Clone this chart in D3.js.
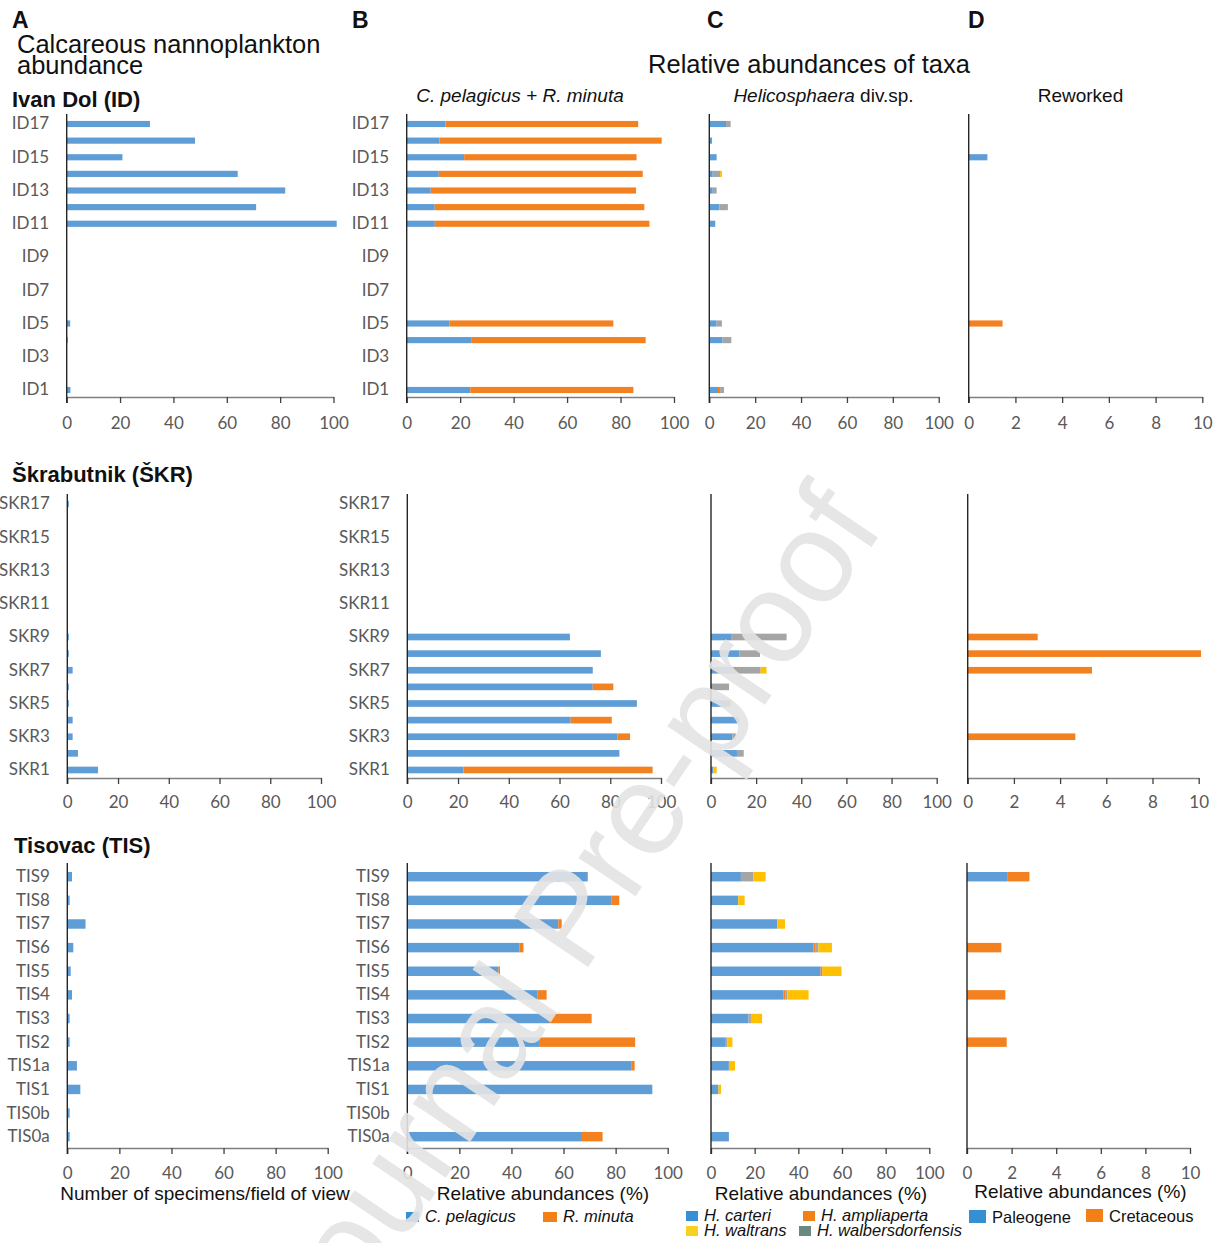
<!DOCTYPE html>
<html>
<head>
<meta charset="utf-8">
<script src="https://cdn.jsdelivr.net/npm/d3@7"></script>
<style>
  body { margin: 0; background: #fff; }
  svg { display: block; font-family: "Liberation Sans", Arial, sans-serif; }
  .tick text { font-family: Lato, "Open Sans", sans-serif; font-size: 17px; fill: #595959; }
</style>
</head>
<body>
<svg id="fig" width="1220" height="1243"></svg>
<script>
// ---------- samples (top of section first) ----------
const idSamples = ["ID17","ID16","ID15","ID14","ID13","ID12","ID11","ID10","ID9","ID8","ID7","ID6","ID5","ID4","ID3","ID2","ID1"];
const idTickLabels = ["ID17","ID15","ID13","ID11","ID9","ID7","ID5","ID3","ID1"];
const skrSamples = ["SKR17","SKR16","SKR15","SKR14","SKR13","SKR12","SKR11","SKR10","SKR9","SKR8","SKR7","SKR6","SKR5","SKR4","SKR3","SKR2","SKR1"];
const skrTickLabels = ["SKR17","SKR15","SKR13","SKR11","SKR9","SKR7","SKR5","SKR3","SKR1"];
const tisSamples = ["TIS9","TIS8","TIS7","TIS6","TIS5","TIS4","TIS3","TIS2","TIS1a","TIS1","TIS0b","TIS0a"];

const pctTicks = [0, 20, 40, 60, 80, 100];
const reworkedTicks = [0, 2, 4, 6, 8, 10];

// ---------- A: specimens per field of view ----------
const idAbundance  = [31.2, 48.1, 20.9, 64.1, 81.9, 71.0, 101.2, 0, 0, 0, 0, 0, 1.3, 0.4, 0, 0, 1.4];
const skrAbundance = [0.6, 0, 0, 0, 0, 0, 0, 0, 0.6, 0.6, 2.1, 0.6, 0.6, 2.1, 2.1, 4.2, 12.1];
const tisAbundance = [1.8, 0.9, 7.0, 2.3, 1.3, 1.8, 0.9, 0.9, 3.7, 5.0, 0.9, 0.9];

// ---------- B: C. pelagicus + R. minuta (%) ----------
const idPelagicus  = [14.5, 12.3, 21.5, 12.0, 9.0, 10.5, 10.5, 0, 0, 0, 0, 0, 16.0, 24.1, 0, 0, 23.8];
const idMinuta     = [72.1, 83.1, 64.5, 76.3, 76.8, 78.4, 80.3, 0, 0, 0, 0, 0, 61.3, 65.3, 0, 0, 61.0];
const skrPelagicus = [0, 0, 0, 0, 0, 0, 0, 0, 64.1, 76.3, 73.1, 73.1, 90.5, 64.4, 82.9, 83.6, 22.1];
const skrMinuta    = [0, 0, 0, 0, 0, 0, 0, 0, 0, 0, 0, 8.1, 0, 16.2, 4.9, 0, 74.6];
const tisPelagicus = [69.3, 78.5, 58.0, 43.0, 35.0, 49.9, 54.4, 50.6, 86.2, 94.1, 0, 66.7];
const tisMinuta    = [0, 2.9, 1.3, 1.6, 0.6, 3.6, 16.4, 36.9, 1.1, 0, 0, 8.3];

// ---------- C: Helicosphaera div. sp. (%) ----------
const idCarteri           = [7.3, 1.2, 3.2, 1.5, 1.5, 4.4, 2.6, 0, 0, 0, 0, 0, 3.2, 5.8, 0, 0, 3.8];
const idAmpliaperta       = [0, 0, 0, 0, 0, 0, 0, 0, 0, 0, 0, 0, 0, 0, 0, 0, 0.9];
const idWalbersdorfensis  = [2.0, 0, 0, 3.2, 1.7, 3.7, 0, 0, 0, 0, 0, 0, 2.3, 3.8, 0, 0, 1.7];
const idWaltrans          = [0, 0, 0, 0.8, 0, 0, 0, 0, 0, 0, 0, 0, 0, 0, 0, 0, 0];
const skrCarteri          = [0, 0, 0, 0, 0, 0, 0, 0, 9.2, 12.5, 10.0, 0, 8.5, 12.5, 9.5, 11.5, 1.0];
const skrAmpliaperta      = [0, 0, 0, 0, 0, 0, 0, 0, 0, 0, 0, 0, 0, 0, 0, 0, 0];
const skrWalbersdorfensis = [0, 0, 0, 0, 0, 0, 0, 0, 24.3, 9.2, 12.0, 8.0, 0, 0, 1.5, 3.0, 0];
const skrWaltrans         = [0, 0, 0, 0, 0, 0, 0, 0, 0, 0, 2.6, 0, 0.8, 0, 0, 0, 1.5];
const tisCarteri          = [13.7, 12.5, 30.4, 46.9, 50.2, 33.1, 17.1, 6.4, 8.2, 3.4, 0, 8.2];
const tisAmpliaperta      = [0, 0, 0, 0.8, 0.9, 0.9, 0, 0, 0, 0, 0, 0];
const tisWalbersdorfensis = [5.7, 0, 0, 1.5, 0, 1.0, 1.2, 1.1, 0, 0, 0, 0];
const tisWaltrans         = [5.6, 2.9, 3.5, 6.2, 8.7, 9.7, 5.1, 2.3, 2.8, 1.2, 0, 0];

// ---------- D: reworked (%) ----------
const idPaleogene   = [0, 0, 0.8, 0, 0, 0, 0, 0, 0, 0, 0, 0, 0, 0, 0, 0, 0];
const idCretaceous  = [0, 0, 0, 0, 0, 0, 0, 0, 0, 0, 0, 0, 1.45, 0, 0, 0, 0];
const skrPaleogene  = [0, 0, 0, 0, 0, 0, 0, 0, 0, 0, 0, 0, 0, 0, 0, 0, 0];
const skrCretaceous = [0, 0, 0, 0, 0, 0, 0, 0, 3.03, 10.1, 5.38, 0, 0, 0, 4.66, 0, 0];
const tisPaleogene  = [1.8, 0, 0, 0, 0, 0, 0, 0, 0, 0, 0, 0];
const tisCretaceous = [1.0, 0, 0, 1.54, 0, 1.72, 0, 1.78, 0, 0, 0, 0];

// ---------- colours ----------
const barBlue = "#5f9dd6", barOrange = "#f4811f", barGray = "#a5a5a5", barYellow = "#ffc000";
const keyBlue = "#3490d2", keyOrange = "#f28016", keyYellow = "#f6d21f", keyGreen = "#6b8a7f";

// ---------- layout ----------
const rows = [
  { cats: idSamples, labels: idTickLabels, yr: [115.7, 398.3], top: 114, base: 397, pad: 0.63, tickPad: 14,
    x: { A: [66.7, 333.5], B: [406.7, 674], C: [709.3, 938.7], D: [968.7, 1202.3] } },
  { cats: skrSamples, labels: skrTickLabels, yr: [495.7, 778.3], top: 494, base: 778, pad: 0.6, tickPad: 12,
    x: { A: [67.3, 321], B: [407.3, 661], C: [711, 936.7], D: [967.7, 1198.7] } },
  { cats: tisSamples, labels: tisSamples, yr: [864.9, 1148.5], top: 863, base: 1148, pad: 0.6, tickPad: 13,
    x: { A: [67.3, 327.7], B: [407.3, 667.7], C: [711, 929.3], D: [967, 1190] } }
];

const svg = d3.select("#fig");

function drawPanel(row, xr, domain, ticks, series, withLabels) {
  const x = d3.scaleLinear().domain(domain).range(xr);
  const y = d3.scaleBand().domain(row.cats).range(row.yr)
    .paddingInner(row.pad).paddingOuter(row.pad / 2);
  const g = svg.append("g");

  const table = row.cats.map((c, i) => {
    const o = { cat: c };
    series.forEach(s => { o[s.name] = s.values[i]; });
    return o;
  });
  const layers = d3.stack().keys(series.map(s => s.name))(table);

  g.selectAll("g.layer").data(layers).join("g")
    .attr("class", "layer")
    .attr("fill", (d, i) => series[i].color)
    .selectAll("rect").data(d => d.filter(v => v[1] > v[0])).join("rect")
    .attr("x", d => x(d[0]))
    .attr("y", d => y(d.data.cat))
    .attr("width", d => x(d[1]) - x(d[0]))
    .attr("height", y.bandwidth());

  const ax = g.append("g")
    .attr("transform", `translate(0,${row.base})`)
    .call(d3.axisBottom(x).tickValues(ticks).tickSize(6).tickPadding(row.tickPad).tickSizeOuter(0));
  ax.attr("font-size", null).attr("font-family", null);
  ax.select(".domain").attr("stroke", "#7f7f7f").attr("stroke-width", 1.3);
  ax.selectAll(".tick line").attr("stroke", "#404040").attr("stroke-width", 1.3);

  if (withLabels) {
    const ay = g.append("g")
      .attr("transform", `translate(${xr[0]},0)`)
      .call(d3.axisLeft(y).tickValues(row.labels).tickSize(0).tickPadding(17.5));
    ay.attr("font-size", null).attr("font-family", null);
    ay.select(".domain").remove();
  }
  g.append("line")
    .attr("x1", xr[0]).attr("x2", xr[0])
    .attr("y1", row.top).attr("y2", row.base + 6)
    .attr("stroke", "#262626").attr("stroke-width", 1.4);
}

const sets = [
  { row: rows[0], A: idAbundance, pel: idPelagicus, min: idMinuta,
    car: idCarteri, amp: idAmpliaperta, wal: idWalbersdorfensis, wlt: idWaltrans,
    pal: idPaleogene, cre: idCretaceous },
  { row: rows[1], A: skrAbundance, pel: skrPelagicus, min: skrMinuta,
    car: skrCarteri, amp: skrAmpliaperta, wal: skrWalbersdorfensis, wlt: skrWaltrans,
    pal: skrPaleogene, cre: skrCretaceous },
  { row: rows[2], A: tisAbundance, pel: tisPelagicus, min: tisMinuta,
    car: tisCarteri, amp: tisAmpliaperta, wal: tisWalbersdorfensis, wlt: tisWaltrans,
    pal: tisPaleogene, cre: tisCretaceous }
];

sets.forEach(s => {
  const r = s.row;
  drawPanel(r, r.x.A, [0, 100], pctTicks, [{ name: "n", values: s.A, color: barBlue }], true);
  drawPanel(r, r.x.B, [0, 100], pctTicks, [
    { name: "pel", values: s.pel, color: barBlue },
    { name: "min", values: s.min, color: barOrange }], true);
  drawPanel(r, r.x.C, [0, 100], pctTicks, [
    { name: "car", values: s.car, color: barBlue },
    { name: "amp", values: s.amp, color: barOrange },
    { name: "wal", values: s.wal, color: barGray },
    { name: "wlt", values: s.wlt, color: barYellow }], false);
  drawPanel(r, r.x.D, [0, 10], reworkedTicks, [
    { name: "pal", values: s.pal, color: barBlue },
    { name: "cre", values: s.cre, color: barOrange }], false);
});

// ---------- headings ----------
function label(x, y, parts, size, anchor, weight) {
  const t = svg.append("text").attr("x", x).attr("y", y)
    .attr("font-size", size).attr("text-anchor", anchor || "start")
    .attr("font-weight", weight || "normal").attr("fill", "#111");
  parts.forEach(p => t.append("tspan").attr("font-style", p.i ? "italic" : "normal").text(p.t));
  return t;
}
label(12, 28, [{ t: "A" }], 23, "start", "bold");
label(352, 28, [{ t: "B" }], 23, "start", "bold");
label(707, 28, [{ t: "C" }], 23, "start", "bold");
label(968, 28, [{ t: "D" }], 23, "start", "bold");
label(17, 53, [{ t: "Calcareous nannoplankton" }], 25.5);
label(17, 74, [{ t: "abundance" }], 25.5);
label(809, 72.5, [{ t: "Relative abundances of taxa" }], 25.5, "middle");
label(12, 106.5, [{ t: "Ivan Dol (ID)" }], 22, "start", "bold");
label(520, 101.5, [{ t: "C. pelagicus + R. minuta", i: true }], 19, "middle");
label(823.5, 101.5, [{ t: "Helicosphaera", i: true }, { t: " div.sp." }], 19, "middle");
label(1080.5, 101.5, [{ t: "Reworked" }], 19, "middle");
label(12, 481.5, [{ t: "Škrabutnik (ŠKR)" }], 22, "start", "bold");
label(14, 852.5, [{ t: "Tisovac (TIS)" }], 22, "start", "bold");

// axis titles
label(205, 1200, [{ t: "Number of specimens/field of view" }], 19, "middle");
label(543, 1200, [{ t: "Relative abundances (%)" }], 19, "middle");
label(821, 1200, [{ t: "Relative abundances (%)" }], 19, "middle");
label(1080.5, 1197.5, [{ t: "Relative abundances (%)" }], 19, "middle");

// ---------- legends ----------
const legendItems = [
  { t: "C. pelagicus", i: true, color: keyBlue, x: 406, y: 1212, w: 13, h: 10 },
  { t: "R. minuta", i: true, color: keyOrange, x: 543, y: 1212, w: 14, h: 10 },
  { t: "H. carteri", i: true, color: keyBlue, x: 686, y: 1211, w: 12, h: 10 },
  { t: "H. ampliaperta", i: true, color: keyOrange, x: 803, y: 1211, w: 12, h: 10 },
  { t: "H. waltrans", i: true, color: keyYellow, x: 686, y: 1226, w: 12, h: 10 },
  { t: "H. walbersdorfensis", i: true, color: keyGreen, x: 799, y: 1226, w: 12, h: 10 },
  { t: "Paleogene", i: false, color: keyBlue, x: 969, y: 1210, w: 17, h: 13 },
  { t: "Cretaceous", i: false, color: keyOrange, x: 1086, y: 1209, w: 17, h: 13 }
];
const lg = svg.append("g").selectAll("g").data(legendItems).join("g");
lg.append("rect").attr("x", d => d.x).attr("y", d => d.y)
  .attr("width", d => d.w).attr("height", d => d.h).attr("fill", d => d.color);
lg.append("text").attr("x", d => d.x + d.w + 6).attr("y", d => d.y + d.h)
  .attr("font-size", 16.5).attr("fill", "#111")
  .attr("font-style", d => d.i ? "italic" : "normal")
  .text(d => d.t);

// ---------- watermark ----------
svg.append("text")
  .attr("transform", "translate(572,921) rotate(-56)")
  .attr("text-anchor", "middle").attr("dy", "0.3em")
  .attr("font-size", 130).attr("fill", "#e4e4e4").attr("opacity", 0.9)
  .text("Journal Pre-proof");
</script>
</body>
</html>
